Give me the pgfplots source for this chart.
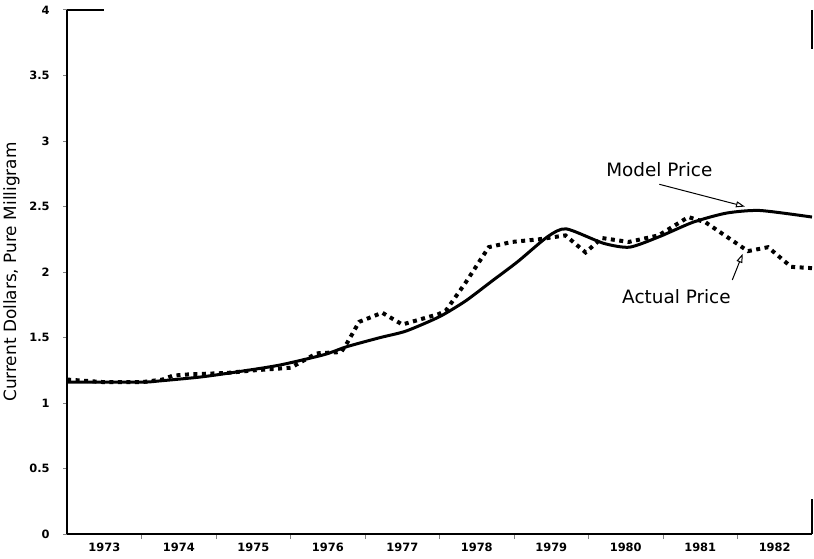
\documentclass[border=0pt]{standalone}
\usepackage{fontspec}
\setmainfont{DejaVu Sans}
\usepackage{pgfplots}
\usepackage{pgfplotstable}
\usetikzlibrary{arrows.meta}
\pgfplotsset{compat=1.18}

\pgfplotstableread{
yr    p
1973.0 1.16
1974.0 1.16
1974.25 1.17
1974.8 1.20
1975.3 1.24
1975.85 1.29
1976.45 1.37
1976.75 1.43
1977.2 1.50
1977.55 1.55
1978.0 1.66
1978.35 1.78
1978.7 1.93
1979.05 2.08
1979.45 2.27
1979.7 2.33
1980.2 2.22
1980.55 2.19
1980.95 2.27
1981.4 2.38
1981.85 2.45
1982.3 2.47
1983.0 2.42
}\model

\pgfplotstableread{
yr    p
1973.0 1.18
1973.5 1.16
1974.0 1.16
1974.28 1.18
1974.42 1.21
1974.65 1.22
1975.14 1.23
1975.5 1.25
1976.0 1.27
1976.35 1.38
1976.68 1.39
1976.76 1.46
1976.92 1.62
1977.23 1.69
1977.5 1.60
1977.99 1.68
1978.09 1.71
1978.35 1.92
1978.66 2.19
1978.97 2.23
1979.33 2.25
1979.69 2.28
1979.96 2.15
1980.18 2.26
1980.54 2.23
1980.94 2.28
1981.34 2.42
1981.57 2.38
1982.14 2.16
1982.41 2.19
1982.72 2.04
1983.0 2.03
}\actual

\begin{document}
\begin{tikzpicture}
\begin{axis}[
  scale only axis,
  width=746bp, height=525bp,
  xmin=1973, xmax=1983,
  ymin=0, ymax=4,
  axis lines*=left,
  axis line style={line width=1.6bp},
  xtick={1973.5,1974.5,...,1982.5},
  xticklabels={1973,1974,1975,1976,1977,1978,1979,1980,1981,1982},
  major x tick style={draw=none},
  minor xtick={1974,1975,...,1982},
  minor tick length=5bp,
  minor x tick style={line width=1bp},
  ytick={0,0.5,...,4},
  yticklabels={0,0.5,1,1.5,2,2.5,3,3.5,4},
  tick align=outside,
  major tick length=4bp,
  major y tick style={line width=1bp},
  tick label style={font=\fontsize{11.5}{13}\selectfont\bfseries},
  yticklabel style={xshift=-10bp},
  xticklabel style={yshift=-1bp},
  /pgf/number format/assume math mode=true,
  ylabel={Current Dollars, Pure Milligram},
  ylabel style={font=\fontsize{17}{19}\selectfont, at={(axis description cs:0,0.5)}, anchor=south, yshift=44bp},
  clip=false,
]
\addplot[black, line width=3bp, smooth, tension=0.4] table[x=yr, y=p] {\model};
\addplot[black, line width=4bp, dash pattern=on 4bp off 4.5bp] table[x=yr, y=p] {\actual};

\draw[line width=1.6bp] (axis cs:1973,4) -- (axis cs:1973.5,4);
\draw[line width=1.6bp] (axis cs:1983,4) -- (axis cs:1983,3.7);
\draw[line width=1.6bp] (axis cs:1983,0) -- (axis cs:1983,0.27);

\node[font=\fontsize{18.5}{20}\selectfont] at (axis cs:1980.95,2.78) {Model Price};
\draw[line width=1bp, -{Triangle[open,length=9bp,width=6bp]}] (axis cs:1980.95,2.67) -- (axis cs:1982.1,2.50);
\node[font=\fontsize{18.5}{20}\selectfont] at (axis cs:1981.18,1.81) {Actual Price};
\draw[line width=1bp, -{Triangle[open,length=9bp,width=6bp]}] (axis cs:1981.93,1.94) -- (axis cs:1982.07,2.14);

\path (rel axis cs:0,0) ++(-67bp,-24bp) (rel axis cs:1,1) ++(2bp,10bp);
\end{axis}
\end{tikzpicture}
\end{document}
